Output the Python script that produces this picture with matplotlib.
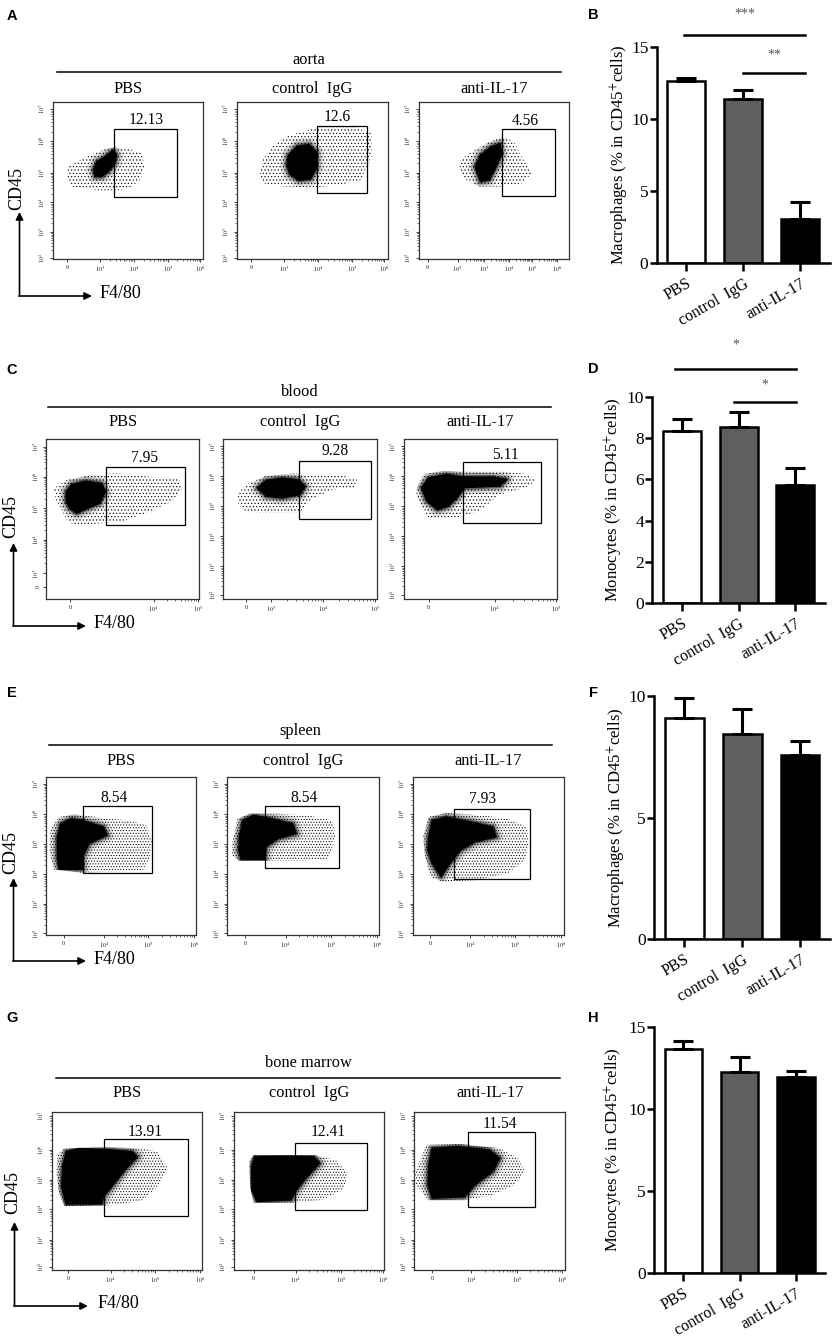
import matplotlib
matplotlib.use('Agg')
import matplotlib.pyplot as plt
from matplotlib.patches import Rectangle
import numpy as np

plt.rcParams['font.family'] = ['Liberation Serif', 'DejaVu Serif']
plt.rcParams['mathtext.fontset'] = 'stix'
plt.rcParams['hatch.linewidth'] = 0.45

W, H = 833, 1339

groups = ['PBS', 'control  IgG', 'anti-IL-17']
tissues = ['aorta', 'blood', 'spleen', 'bone marrow']
flow_letters = ['A', 'C', 'E', 'G']
bar_letters = ['B', 'D', 'F', 'H']

# % of CD45+ cells inside the F4/80 gate
gate_pct = [['12.13', '12.6', '4.56'],
            ['7.95', '9.28', '5.11'],
            ['8.54', '8.54', '7.93'],
            ['13.91', '12.41', '11.54']]

# gate boxes (x0, x1, y0, y1) in display units 0-100
gate_boxes = [[(40.9, 82.5, 39.7, 82.8), (53.3, 86.5, 42.2, 84.9), (55.7, 90.5, 40.3, 82.8)],
              [(39.1, 91.0, 46.3, 82.5), (49.5, 96.4, 50.0, 86.4), (38.4, 89.6, 47.4, 85.9)],
              [(24.3, 70.7, 39.0, 81.5), (25.0, 73.7, 42.1, 81.5), (27.7, 78.1, 35.2, 80.0)],
              [(34.5, 90.5, 34.2, 82.7), (40.5, 88.8, 38.0, 80.2), (35.6, 79.8, 40.0, 87.3)]]
gate_label_xy = [[(61.8, 88.5), (66.8, 90.6), (70.7, 87.9)],
                 [(64.4, 87.9), (72.8, 92.3), (66.1, 90.1)],
                 [(45.3, 86.4), (50.1, 86.4), (46.1, 85.9)],
                 [(61.9, 87.5), (63.1, 87.5), (56.9, 92.5)]]

# dense part of each event cloud (outline)
cores = [
    [[(26.9, 56.7), (29.1, 62.0), (34.7, 65.2), (40.2, 69.4), (42.4, 66.2), (41.3, 60.9),
      (36.9, 55.6), (32.5, 52.4), (28.0, 52.4)],
     [(34.0, 66.0), (40.0, 72.0), (48.0, 73.0), (53.0, 68.0), (53.0, 58.0), (49.0, 51.0),
      (41.0, 50.0), (35.0, 54.0), (33.0, 60.0)],
     [(37.5, 58.8), (41.1, 66.2), (48.2, 71.5), (54.1, 73.6), (55.3, 67.3), (51.7, 58.8),
      (47.0, 50.3), (41.1, 49.2)]],
    [[(12.9, 67.0), (16.4, 71.6), (25.8, 73.7), (36.3, 72.3), (38.7, 67.0), (35.1, 59.8),
      (26.9, 56.6), (19.9, 53.5), (15.2, 56.6), (12.9, 60.8)],
     [(22.1, 69.4), (28.0, 74.2), (38.4, 75.6), (48.9, 74.6), (53.5, 70.4), (50.0, 65.2),
      (38.4, 63.1), (28.0, 64.2)],
     [(11.6, 69.5), (16.3, 75.8), (27.9, 77.9), (39.6, 76.3), (58.2, 76.3), (67.5, 74.8),
      (62.9, 70.6), (39.6, 69.5), (34.9, 63.2), (29.1, 58.0), (22.1, 55.8), (15.1, 61.1)]],
    [[(7.2, 62.1), (9.6, 70.5), (16.7, 73.7), (23.9, 72.6), (38.1, 68.4), (40.5, 63.2),
      (28.6, 57.9), (24.3, 49.5), (24.3, 41.5), (8.4, 41.5), (7.2, 49.5)],
     [(7.3, 53.7), (7.7, 62.1), (10.1, 72.6), (17.2, 75.8), (28.9, 73.7), (43.0, 70.5),
      (45.4, 64.2), (33.6, 61.1), (25.4, 55.8), (24.7, 47.8), (8.9, 47.8)],
     [(10.6, 62.1), (13.0, 72.6), (22.4, 74.7), (39.0, 71.6), (53.2, 68.4), (55.5, 62.1),
      (41.4, 58.9), (31.9, 53.7), (24.8, 45.3), (18.9, 36.8), (13.0, 45.3), (10.1, 53.7)]],
    [[(7.2, 65.4), (9.5, 74.9), (17.9, 77.0), (36.9, 76.3), (53.6, 74.9), (57.2, 71.7),
      (48.8, 63.3), (41.7, 54.8), (34.5, 46.4), (33.4, 41.7), (9.5, 41.7), (6.5, 52.7)],
     [(11.9, 65.4), (13.6, 71.7), (34.6, 72.1), (53.6, 71.7), (57.2, 67.5), (48.9, 59.0),
      (41.7, 50.6), (38.1, 44.3), (15.5, 43.2), (11.9, 50.6)],
     [(9.5, 66.5), (11.8, 77.1), (28.4, 78.2), (49.7, 76.1), (56.8, 70.8), (52.1, 62.3),
      (40.3, 53.8), (33.2, 46.3), (11.8, 45.3), (9.0, 53.8)]],
]

# sparse scatter around each cloud
halos = [
    [[(10.2, 58.8), (18.0, 63.0), (24.7, 66.2), (35.8, 70.5), (41.3, 71.1), (50.2, 70.5),
      (59.1, 67.3), (61.3, 58.8), (58.0, 50.3), (52.4, 46.1), (44.7, 43.9), (31.3, 43.5),
      (22.4, 45.0), (12.4, 46.1), (9.1, 52.4)],
     [(17.1, 63.1), (23.0, 71.5), (32.5, 77.9), (46.7, 82.2), (60.9, 85.4), (77.5, 84.3),
      (89.3, 80.1), (89.3, 65.2), (82.2, 50.3), (68.0, 47.1), (51.4, 45.6), (32.5, 46.1),
      (19.4, 47.1), (14.7, 52.4)],
     [(28.0, 63.1), (35.1, 68.3), (47.0, 74.7), (56.5, 77.9), (63.6, 74.7), (68.4, 65.2),
      (75.5, 54.6), (68.4, 48.2), (54.1, 46.1), (39.9, 46.1), (31.6, 50.3), (26.8, 56.7)]],
    [[(4.7, 69.1), (12.9, 74.3), (30.5, 77.9), (46.9, 78.5), (67.9, 76.4), (86.7, 75.4),
      (89.0, 69.1), (82.0, 60.8), (67.9, 54.6), (49.2, 48.3), (35.1, 47.3), (21.1, 45.8),
      (14.1, 48.3), (9.4, 56.6), (5.9, 62.9)],
     [(9.4, 66.3), (15.2, 71.5), (26.8, 76.7), (45.4, 78.4), (64.0, 77.7), (78.0, 77.1),
      (87.3, 74.6), (84.9, 69.4), (71.0, 68.3), (57.0, 62.1), (50.0, 54.2), (31.4, 53.8),
      (15.2, 54.2), (10.0, 59.0)],
     [(8.1, 68.5), (12.8, 77.9), (25.6, 80.1), (46.6, 79.6), (67.5, 79.6), (81.5, 77.9),
      (86.1, 73.7), (79.2, 69.5), (62.9, 65.3), (48.9, 54.8), (34.9, 51.0), (16.3, 50.6),
      (12.8, 56.9), (8.9, 63.2)]],
    [[(2.4, 66.3), (8.4, 74.7), (19.1, 76.4), (40.5, 73.7), (54.8, 72.6), (66.7, 69.5),
      (70.3, 60.0), (69.1, 49.5), (64.3, 41.1), (40.5, 40.0), (24.3, 39.4), (4.8, 41.5),
      (2.0, 53.7)],
     [(3.0, 57.9), (6.6, 73.7), (14.8, 76.8), (33.6, 76.8), (52.5, 75.8), (68.9, 72.6),
      (71.3, 62.1), (66.6, 48.4), (50.1, 46.9), (24.2, 46.9), (7.7, 46.9), (3.0, 50.5)],
     [(7.1, 62.1), (10.6, 74.7), (22.4, 77.3), (46.1, 75.8), (62.7, 73.7), (75.7, 68.4),
      (76.9, 57.9), (74.5, 47.4), (62.7, 38.9), (41.4, 34.7), (20.1, 33.7), (11.8, 36.8),
      (8.3, 49.5)]],
    [[(3.6, 72.7), (8.4, 77.0), (36.9, 77.6), (60.7, 77.0), (70.3, 74.9), (77.4, 64.3),
      (70.3, 52.7), (60.7, 44.3), (44.1, 41.1), (8.4, 40.4), (4.8, 48.5), (3.1, 61.1)],
     [(10.3, 68.5), (13.1, 72.7), (53.6, 72.7), (67.9, 69.6), (76.2, 61.1), (72.7, 50.6),
      (58.4, 44.3), (39.3, 42.6), (13.1, 42.6), (10.8, 52.7)],
     [(0.5, 62.3), (8.3, 79.2), (30.8, 79.7), (56.8, 77.1), (68.7, 70.8), (73.4, 62.3),
      (66.3, 53.8), (52.1, 47.4), (33.2, 44.2), (9.5, 44.2), (1.2, 53.8)]],
]

# axis ticks of the flow plots (display units)
xtick_pos = [[[9.5, 31.3, 54.0, 76.5, 98.0], [9.5, 31.3, 54.0, 76.5, 98.0],
              [6.0, 26.0, 43.5, 60.0, 75.2, 92.0]],
             [[15.7, 70.3, 99.5], [15.1, 31.4, 65.1, 98.8], [16.3, 59.4, 99.5]],
             [[11.5, 38.3, 68.0, 98.5]] * 3,
             [[10.7, 39.3, 69.0, 98.8], [13.1, 41.2, 71.4, 99.5], [11.9, 37.7, 67.9, 98.0]]]
xtick_lab = [[['0', '3', '4', '5', '6'], ['0', '3', '4', '5', '6'], ['0', '2', '3', '4', '5', '6']],
             [['0', '4', '5'], ['0', '3', '4', '5'], ['0', '4', '5']],
             [['0', '4', '5', '6']] * 3,
             [['0', '4', '5', '6']] * 3]
ytick_pos = [[[0.5, 17.0, 36.0, 55.0, 75.0, 95.4]] * 3,
             [[7.7, 16.0, 37.0, 56.6, 76.4, 95.2], [2.7, 20.4, 39.2, 57.9, 76.6, 95.4],
              [2.7, 20.4, 39.2, 57.9, 76.6, 95.4]],
             [[1.0, 19.6, 38.5, 57.5, 76.5, 95.8]] * 3,
             [[2.0, 19.0, 38.5, 57.1, 76.1, 97.3]] * 3]
ytick_lab = [[['2', '3', '4', '5', '6', '7']] * 3,
             [['0', '3', '4', '5', '6', '7'], ['2', '3', '4', '5', '6', '7'], ['2', '3', '4', '5', '6', '7']],
             [['2', '3', '4', '5', '6', '7']] * 3,
             [['2', '3', '4', '5', '6', '7']] * 3]

# bar charts: mean and SEM
bar_ylabels = ['Macrophages (% in CD45$^{+}$cells)', 'Monocytes (% in CD45$^{+}$cells)',
               'Macrophages (% in CD45$^{+}$cells)', 'Monocytes (% in CD45$^{+}$cells)']
bar_means = [[12.6, 11.4, 3.1], [8.34, 8.55, 5.74], [9.07, 8.43, 7.55], [13.64, 12.26, 11.96]]
bar_sems = [[0.25, 0.6, 1.15], [0.58, 0.71, 0.79], [0.82, 1.02, 0.6], [0.49, 0.88, 0.34]]
bar_ymax = [15, 10, 10, 15]
bar_yticks = [[0, 5, 10, 15], [0, 2, 4, 6, 8, 10], [0, 5, 10], [0, 5, 10, 15]]
bar_colors = ['white', '#5f5f5f', 'black']
# significance: (label, x from, x to, line height, star height)
signif = [[('***', -0.04, 2.08, 15.8, 17.25), ('**', 0.99, 2.08, 13.15, 14.4)],
          [('*', -0.12, 2.01, 11.32, 12.5), ('*', 0.92, 2.01, 9.75, 10.55)],
          [], []]

# ---- layout (pixels of the 833x1339 image) ----
flow_cols = [[(53, 203), (237, 387.5), (418.6, 569)],
             [(46.4, 199), (223.2, 376.8), (403.6, 557)],
             [(46.4, 196.4), (227.5, 379.3), (412.5, 563.5)],
             [(51.8, 201.8), (233.9, 383.9), (414.3, 565)]]
flow_rows = [(102, 259), (439, 599), (777, 935), (1112, 1270)]
halo_hatch = ['.....', '.....', '......', '......']
head_y = [(59.5, 72, 89), (391.7, 407.3, 421.7), (730.7, 745, 760.7), (1062.7, 1077.7, 1092.7)]
head_x = [(56.7, 560.7), (48.2, 551), (49, 552), (56.4, 560)]
letter_y = [16, 370, 693, 1018]
arrow = [(19.5, 296, 212, 92), (13.5, 626, 543, 86), (13.5, 961, 878, 86), (14.5, 1306, 1222, 88)]
cd45_xy = [(16.7, 188), (11, 517), (11, 853), (12.5, 1193)]
f480_x = [100, 94, 94, 98]
bar_boxes = [(656.7, 46.7, 830, 263.3), (652.3, 396.7, 825, 603.3),
             (654.3, 695.7, 830, 939.3), (654.3, 1026.7, 825, 1273.3)]
bar_label_x = [-0.147, -0.16, -0.15, -0.173]
bar_letter_y = [15, 369, 693, 1018]


def px(l, t, r, b):
    return [l / W, 1 - b / H, (r - l) / W, (b - t) / H]


def minor_between(pos):
    out = []
    for a, b in zip(pos[:-1], pos[1:]):
        out += [a + np.log10(k) * (b - a) for k in range(2, 10)]
    return out


fig = plt.figure(figsize=(W / 100, H / 100), dpi=100)
ov = fig.add_axes([0, 0, 1, 1])
ov.set_xlim(0, W)
ov.set_ylim(H, 0)
ov.axis('off')

for r in range(4):
    ty, ly, sy = head_y[r]
    x0, x1 = head_x[r]
    ov.text(12, letter_y[r], flow_letters[r], family='Liberation Sans', weight='bold',
            fontsize=10.5, ha='center', va='center')
    ov.text((x0 + x1) / 2, ty, tissues[r], fontsize=11.8, ha='center', va='center')
    ov.plot([x0, x1], [ly, ly], color='black', lw=1.1)
    ax_x, cy, ty2, tx = arrow[r]
    ov.annotate('', xy=(ax_x, ty2), xytext=(ax_x, cy),
                arrowprops=dict(arrowstyle='-|>', color='black', lw=1.2, mutation_scale=11,
                                shrinkA=0, shrinkB=0))
    ov.annotate('', xy=(tx, cy), xytext=(ax_x - 0.6, cy),
                arrowprops=dict(arrowstyle='-|>', color='black', lw=1.2, mutation_scale=11,
                                shrinkA=0, shrinkB=0))
    ov.text(cd45_xy[r][0], cd45_xy[r][1], 'CD45', rotation=90, fontsize=13,
            ha='center', va='center')
    ov.text(f480_x[r], cy - 2, 'F4/80', fontsize=13, ha='left', va='center')

    top, bot = flow_rows[r]
    for c in range(3):
        l, rr = flow_cols[r][c]
        ov.text((l + rr) / 2, sy, groups[c], fontsize=11.8, ha='center', va='center')
        ax = fig.add_axes(px(l, top, rr, bot))
        ax.set_xlim(0, 100)
        ax.set_ylim(0, 100)
        hx, hy = zip(*halos[r][c])
        halo_patch = ax.fill(hx, hy, facecolor='none', edgecolor='black',
                             hatch=halo_hatch[r], lw=0)[0]
        kx, ky = zip(*cores[r][c])
        # soft fringe around the dense core (kept inside the sparse cloud)
        for lw, a in [(10, 0.12), (6, 0.22), (3, 0.45)]:
            fr = ax.fill(kx, ky, facecolor='none', edgecolor='black', lw=lw, alpha=a,
                         joinstyle='round')[0]
            fr.set_clip_path(halo_patch)
        ax.fill(kx, ky, facecolor='black', edgecolor='black', lw=0.8)
        g = gate_boxes[r][c]
        ax.add_patch(Rectangle((g[0], g[2]), g[1] - g[0], g[3] - g[2], fill=False,
                               lw=0.9, ec='black'))
        gx, gy = gate_label_xy[r][c]
        ax.text(gx, gy, gate_pct[r][c], fontsize=11.2, ha='center', va='center')
        xp = xtick_pos[r][c]
        ax.set_xticks(xp)
        ax.set_xticklabels(['0' if s == '0' else r'$10^{%s}$' % s for s in xtick_lab[r][c]],
                           fontsize=4.5)
        ax.set_xticks(minor_between(xp[1:]), minor=True)
        yp = ytick_pos[r][c]
        ax.set_yticks(yp)
        ax.set_yticklabels(['0' if s == '0' else r'$10^{%s}$' % s for s in ytick_lab[r][c]],
                           fontsize=4.5, rotation=90, va='center')
        ax.set_yticks(minor_between(yp[1:] if ytick_lab[r][c][0] == '0' else yp), minor=True)
        ax.tick_params(which='major', length=2.5, width=0.6, pad=1.5, colors='#222222')
        ax.tick_params(which='minor', length=1.3, width=0.4)
        for s in ax.spines.values():
            s.set_linewidth(0.9)
            s.set_color('#333333')

# bar charts
for i in range(4):
    l, t, rr, b = bar_boxes[i]
    ax = fig.add_axes(px(l, t, rr, b))
    x = np.arange(3)
    ax.bar(x, bar_means[i], width=0.67, color=bar_colors, edgecolor='black', lw=1.8, zorder=2)
    ax.errorbar(x, bar_means[i], yerr=[np.zeros(3), bar_sems[i]], fmt='none', ecolor='black',
                elinewidth=2.2, capsize=7.5, capthick=2.2, zorder=3)
    ax.set_xlim(-0.52, 2.52)
    ax.set_ylim(0, bar_ymax[i])
    ax.set_yticks(bar_yticks[i])
    ax.set_xticks(x)
    ax.set_xticklabels(groups, rotation=30, ha='right', rotation_mode='anchor', fontsize=11.5)
    ax.tick_params(axis='y', labelsize=12.5, width=1.8, length=5, pad=1)
    ax.tick_params(axis='x', width=1.8, length=6, pad=3)
    ax.spines['top'].set_visible(False)
    ax.spines['right'].set_visible(False)
    for s in ('left', 'bottom'):
        ax.spines[s].set_linewidth(1.8)
    ax.set_ylabel(bar_ylabels[i], fontsize=12)
    ax.yaxis.set_label_coords(bar_label_x[i], 0.5)
    for lab, xa, xb, ly, sy in signif[i]:
        ax.plot([xa, xb], [ly, ly], color='black', lw=1.8, clip_on=False)
        ax.text((xa + xb) / 2, sy, lab, fontsize=10, color='#555555', ha='center',
                va='center', clip_on=False)
    ov.text(593.3, bar_letter_y[i], bar_letters[i], family='Liberation Sans', weight='bold',
            fontsize=10.5, ha='center', va='center')

fig.savefig('out.png', dpi=100)
